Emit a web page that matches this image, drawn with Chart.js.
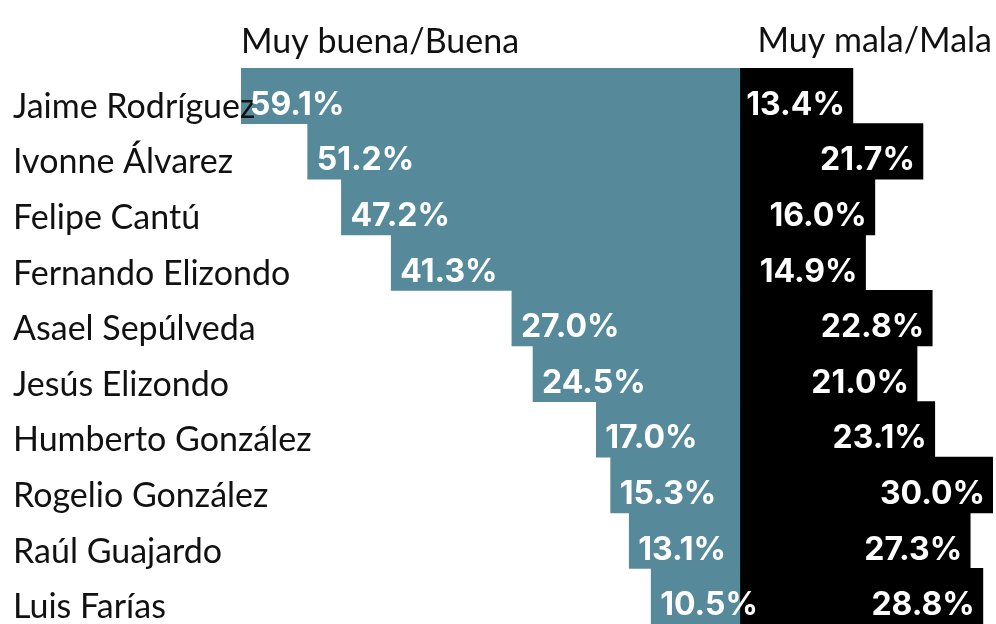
<!DOCTYPE html>
<html>
<head>
<meta charset="utf-8">
<script src="https://cdn.jsdelivr.net/npm/chart.js@4"></script>
<style>
  body { margin: 0; background: #fff; }
  #wrap { width: 996px; height: 624px; }
</style>
</head>
<body>
<div id="wrap"><canvas id="chart" width="996" height="624"></canvas></div>
<script>
const names = [
  "Jaime Rodríguez", "Ivonne Álvarez", "Felipe Cantú", "Fernando Elizondo",
  "Asael Sepúlveda", "Jesús Elizondo", "Humberto González", "Rogelio González",
  "Raúl Guajardo", "Luis Farías"
];
const good = [59.1, 51.2, 47.2, 41.3, 27.0, 24.5, 17.0, 15.3, 13.1, 10.5];
const bad = [13.4, 21.7, 16.0, 14.9, 22.8, 21.0, 23.1, 30.0, 27.3, 28.8];
const headers = ["Muy buena/Buena", "Muy mala/Mala"];

const FONT = "Lato, 'Noto Sans', sans-serif";
const VALUE_FONT = "Inter, 'Noto Sans', sans-serif";

const labelsPlugin = {
  id: "labels",
  afterDatasetsDraw(chart) {
    const { ctx, scales, chartArea } = chart;
    ctx.save();
    ctx.textBaseline = "alphabetic";

    // headers
    ctx.fillStyle = "#111";
    ctx.font = `400 34px ${FONT}`;
    ctx.textAlign = "left";
    ctx.fillText(headers[0], chartArea.left, chartArea.top - 15);
    ctx.textAlign = "right";
    ctx.fillText(headers[1], chartArea.right - 1, chartArea.top - 16);

    // names
    ctx.textAlign = "left";
    names.forEach((n, i) => {
      const y = scales.y.getPixelForValue(i);
      ctx.fillText(n, 13, y + 22);
    });

    // values
    ctx.fillStyle = "#fff";
    ctx.font = `700 32px ${VALUE_FONT}`;
    const left = chart.getDatasetMeta(0).data;
    const right = chart.getDatasetMeta(1).data;
    left.forEach((el, i) => {
      ctx.textAlign = "left";
      ctx.fillText(good[i].toFixed(1) + "%", el.x + 9, el.y + 19);
    });
    right.forEach((el, i) => {
      ctx.textAlign = "right";
      ctx.fillText(bad[i].toFixed(1) + "%", el.x - 8, el.y + 19);
    });
    ctx.restore();
  }
};

new Chart(document.getElementById("chart"), {
  type: "bar",
  data: {
    labels: names,
    datasets: [
      {
        label: headers[0],
        data: good.map(v => -v),
        backgroundColor: "#568a9b",
        barPercentage: 1,
        categoryPercentage: 1
      },
      {
        label: headers[1],
        data: bad,
        backgroundColor: "#000",
        barPercentage: 1,
        categoryPercentage: 1
      }
    ]
  },
  options: {
    indexAxis: "y",
    responsive: false,
    animation: false,
    layout: { padding: { left: 241, right: 3, top: 68, bottom: 0 } },
    scales: {
      x: { stacked: true, min: -59.1, max: 30, display: false },
      y: { stacked: true, display: false }
    },
    plugins: {
      legend: { display: false },
      tooltip: { enabled: false }
    }
  },
  plugins: [labelsPlugin]
});
</script>
</body>
</html>
